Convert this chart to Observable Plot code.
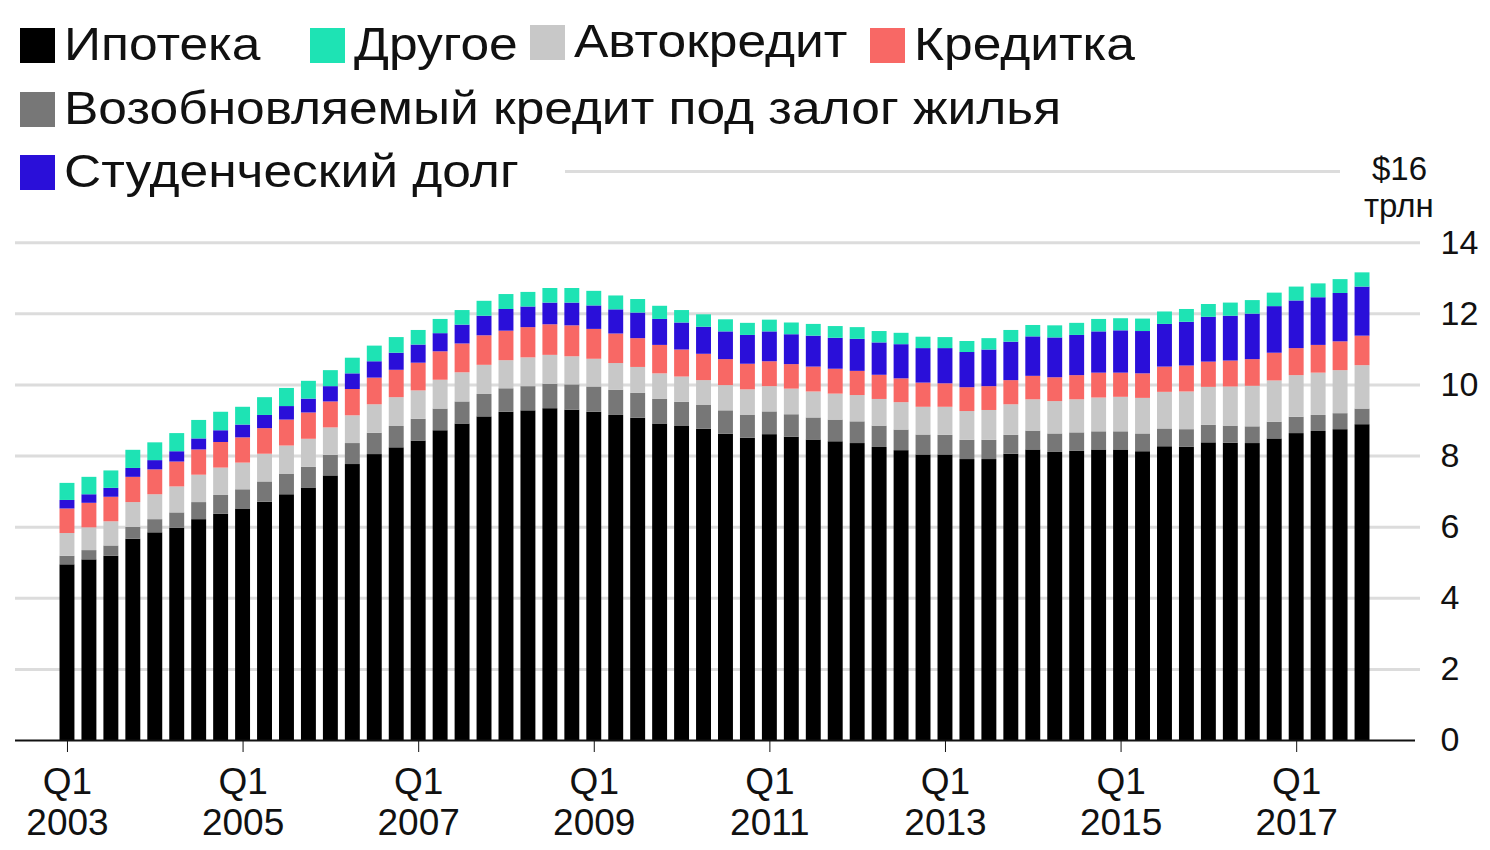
<!DOCTYPE html>
<html><head><meta charset="utf-8">
<script src="https://cdn.jsdelivr.net/npm/d3@7"></script>
<script src="https://cdn.jsdelivr.net/npm/@observablehq/plot@0.6"></script>
<style>
body{margin:0;background:#fff;font-family:"Liberation Sans",Arial,sans-serif;}
#wrap{position:relative;width:1490px;height:850px;}
.lg{position:absolute;font-size:46px;color:#111;line-height:1;white-space:nowrap;transform:scaleX(1.12);transform-origin:left top;}
.sw{position:absolute;width:35px;height:35px;}
.unit{position:absolute;font-size:33px;color:#111;line-height:1;}
</style></head><body>
<div id="wrap"><div id="chart"></div></div>
<script>
// квартальные данные, трлн $
const years = d3.range(2003, 2018);
const quarters = years.flatMap(y => [1, 2, 3, 4].map(q => `${y}Q${q}`));

const ipoteka = [4.94,5.08,5.18,5.66, 5.84,5.97,6.21,6.36, 6.51,6.70,6.91,7.10, 7.44,7.76,8.04,8.23,
  8.42,8.71,8.90,9.10, 9.23,9.27,9.33,9.29, 9.23,9.14,9.06,8.90, 8.83,8.75,8.61,8.50,
  8.60,8.53,8.45,8.40, 8.35,8.24,8.15,8.03, 8.03,7.90,7.90,8.05, 8.17,8.10,8.13,8.17,
  8.17,8.12,8.26,8.25, 8.37,8.36,8.35,8.48, 8.63,8.69,8.74,8.88];
const heloc = [.24,.26,.29,.33, .37,.43,.48,.53, .54,.57,.57,.58, .58,.59,.60,.60, .61,.61,.62,.63,
  .66,.68,.69,.71, .71,.71,.70,.69, .68,.67,.66,.65, .64,.63,.62,.61, .61,.60,.58,.56,
  .55,.54,.54,.53, .53,.52,.52,.51, .51,.50,.50,.49, .49,.48,.47,.47, .46,.45,.45,.44];
const avto = [.64,.64,.68,.70, .70,.73,.77,.77, .75,.78,.80,.79, .77,.78,.80,.81, .80,.81,.82,.82,
  .79,.81,.81,.79, .78,.75,.73,.72, .71,.70,.71,.71, .71,.72,.73,.73, .74,.75,.77,.78,
  .79,.81,.84,.86, .88,.91,.93,.95, .97,1.00,1.03,1.06, 1.07,1.10,1.14,1.16, 1.17,1.19,1.21,1.22];
const kreditka = [.69,.69,.69,.71, .70,.70,.71,.72, .71,.72,.73,.74, .73,.74,.75,.77, .78,.80,.81,.83,
  .83,.85,.86,.87, .84,.83,.81,.80, .76,.74,.73,.72, .70,.69,.70,.70, .68,.68,.67,.68,
  .66,.67,.67,.68, .66,.67,.68,.70, .68,.69,.71,.73, .71,.73,.75,.78, .76,.78,.81,.83];
const student = [.24,.24,.25,.25, .26,.29,.31,.33, .36,.37,.38,.39, .43,.44,.46,.48, .51,.51,.53,.55,
  .61,.58,.61,.64, .66,.68,.72,.73, .76,.76,.78,.81, .84,.84,.87,.87, .90,.91,.96,.97,
  .99,.99,1.03,1.08, 1.11,1.12,1.13,1.16, 1.19,1.19,1.20,1.23, 1.26,1.26,1.28,1.31, 1.34,1.34,1.36,1.38];
const drugoe = [.48,.49,.49,.51, .50,.51,.52,.52, .50,.50,.51,.50, .45,.44,.44,.44, .41,.40,.41,.42,
  .42,.41,.41,.41, .41,.39,.38,.37, .35,.35,.34,.34, .33,.33,.33,.33, .33,.32,.32,.32,
  .31,.31,.32,.33, .32,.34,.34,.35, .34,.35,.35,.36, .36,.37,.38,.38, .39,.39,.39,.40];

const series = [
  {name: "Ипотека", values: ipoteka, color: "#000000"},
  {name: "Возобновляемый кредит под залог жилья", values: heloc, color: "#777777"},
  {name: "Автокредит", values: avto, color: "#c8c8c8"},
  {name: "Кредитка", values: kreditka, color: "#f86865"},
  {name: "Студенческий долг", values: student, color: "#2a0fd9"},
  {name: "Другое", values: drugoe, color: "#1ee3b4"}
];
const rows = series.flatMap((s, si) => s.values.map((v, i) => ({q: quarters[i], type: s.name, v, order: si})));
const yTicks = [0, 2, 4, 6, 8, 10, 12, 14];

const chart = Plot.plot({
  width: 1490, height: 850,
  marginLeft: 56, marginRight: 117, marginTop: 171, marginBottom: 110,
  style: {fontFamily: "Liberation Sans, Arial, sans-serif", fontSize: "34px", color: "#111", overflow: "visible"},
  x: {type: "band", domain: quarters, paddingInner: 0.32, paddingOuter: 0.16, label: null},
  y: {domain: [0, 16], label: null},
  color: {domain: series.map(s => s.name), range: series.map(s => s.color)},
  marks: [
    Plot.ruleY(yTicks.slice(1), {stroke: "#dcdcdc", strokeWidth: 3, insetLeft: -41, insetRight: -47}),
    Plot.ruleY([16], {stroke: "#dcdcdc", strokeWidth: 3, insetLeft: 509, insetRight: 33}),
    Plot.barY(rows, {x: "q", y: "v", fill: "type", order: series.map(s => s.name)}),
    Plot.ruleY([0], {stroke: "#111", strokeWidth: 2, insetLeft: -41, insetRight: -42}),
    Plot.axisX({ticks: quarters.filter(q => q.endsWith("Q1") && (+q.slice(0, 4)) % 2 === 1),
      tickSize: 12, tickPadding: 12, stroke: "#111", fontSize: 37,
      tickFormat: q => `Q1\n${q.slice(0, 4)}`, lineHeight: 1.12}),
    Plot.axisY({anchor: "right", ticks: yTicks, tickSize: 0, tickPadding: 67})
  ]
});
document.getElementById("chart").append(chart);

// легенда
const legend = [
  {name: "Ипотека", color: "#000000", x: 20, y: 28},
  {name: "Другое", color: "#1ee3b4", x: 310, y: 28},
  {name: "Автокредит", color: "#c8c8c8", x: 530, y: 25},
  {name: "Кредитка", color: "#f86865", x: 870, y: 28},
  {name: "Возобновляемый кредит под залог жилья", color: "#777777", x: 20, y: 92},
  {name: "Студенческий долг", color: "#2a0fd9", x: 20, y: 155}
];
const wrap = d3.select("#wrap");
legend.forEach(l => {
  wrap.append("div").attr("class", "sw").style("left", l.x + "px").style("top", l.y + "px").style("background", l.color);
  wrap.append("div").attr("class", "lg").style("left", (l.x + 44) + "px").style("top", (l.y - 7) + "px").text(l.name);
});
wrap.append("div").attr("class", "unit").style("left", "1372px").style("top", "152px").text("$16");
wrap.append("div").attr("class", "unit").style("left", "1364px").style("top", "189px").text("трлн");
</script>
</body></html>
